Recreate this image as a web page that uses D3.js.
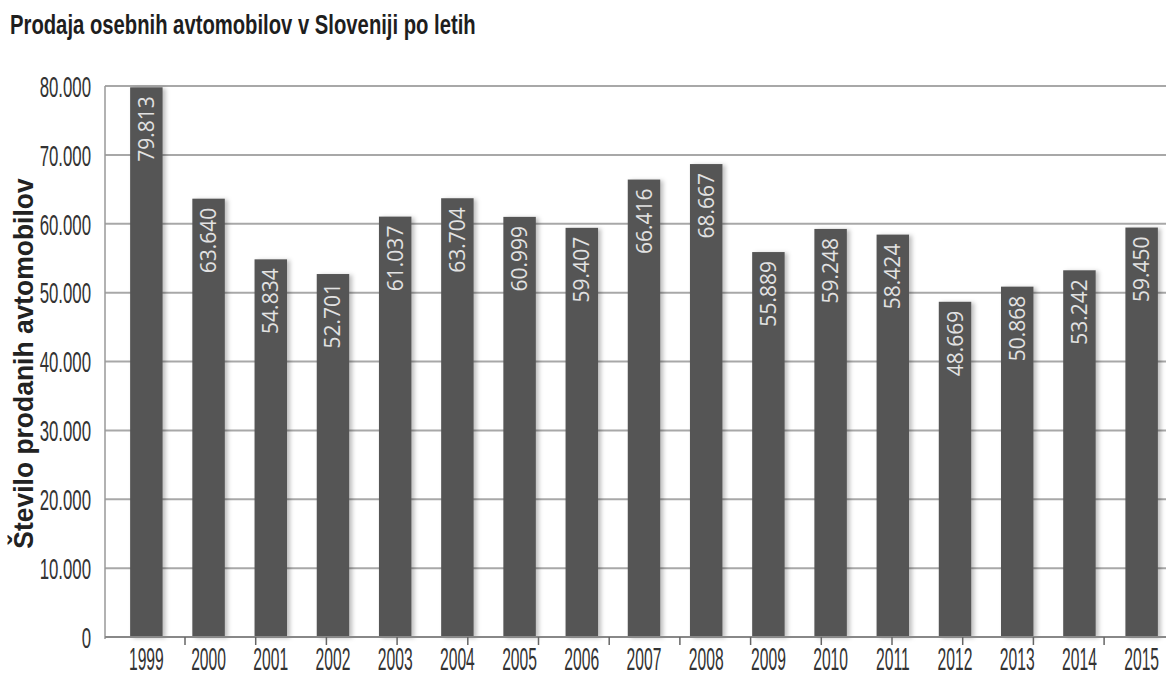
<!DOCTYPE html>
<html>
<head>
<meta charset="utf-8">
<script src="https://cdn.jsdelivr.net/npm/d3@7"></script>
<style>
  body { margin: 0; background: #fff; }
  svg { display: block; }
</style>
</head>
<body>
<div id="chart"></div>
<script>
// data
var years = ['1999', '2000', '2001', '2002', '2003', '2004', '2005', '2006', '2007',
  '2008', '2009', '2010', '2011', '2012', '2013', '2014', '2015'];
var sales = [79813, 63640, 54834, 52701, 61037, 63704, 60999, 59407, 66416,
  68667, 55889, 59248, 58424, 48669, 50868, 53242, 59450];
var yTicks = [0, 10000, 20000, 30000, 40000, 50000, 60000, 70000, 80000];

var W = 1166, H = 677;
var margin = { top: 86, right: 0, bottom: 40, left: 105 };
var plotBottom = H - margin.bottom;

// slovene number format: 79.813
var fmt = d3.formatLocale({ decimal: ',', thousands: '.', grouping: [3], currency: ['', ''] }).format(',d');

var svg = d3.select('#chart')
  .append('svg')
    .attr('width', W)
    .attr('height', H);

var defs = svg.append('defs');
var f = defs.append('filter').attr('id', 'shadow')
  .attr('x', '-30%').attr('y', '-5%').attr('width', '160%').attr('height', '110%');
f.append('feDropShadow')
  .attr('dx', 3).attr('dy', 1).attr('stdDeviation', 2)
  .attr('flood-color', '#000').attr('flood-opacity', 0.25);

var x = d3.scaleBand()
  .domain(years)
  .range([margin.left, 1183])
  .paddingInner(0.478)
  .paddingOuter(0.404);

var y = d3.scaleLinear()
  .domain([0, 80000])
  .range([plotBottom, margin.top]);

// gridlines
svg.append('g')
  .selectAll('line')
  .data(yTicks.filter(d => d > 0))
  .enter()
  .append('line')
    .attr('x1', margin.left)
    .attr('x2', W)
    .attr('y1', d => y(d))
    .attr('y2', d => y(d))
    .attr('stroke', '#a8a8a8')
    .attr('stroke-width', 2);

// left axis line
svg.append('line')
  .attr('x1', margin.left).attr('x2', margin.left)
  .attr('y1', y(80000)).attr('y2', plotBottom + 2)
  .attr('stroke', '#999')
  .attr('stroke-width', 1.5);

// y tick labels (squeezed to look like a condensed face)
svg.append('g')
  .selectAll('text')
  .data(yTicks)
  .enter()
  .append('text')
    .attr('transform', d => 'translate(91,' + y(d) + ') scale(0.56,1)')
    .attr('dy', '0.36em')
    .attr('text-anchor', 'end')
    .attr('font-family', 'Liberation Sans, sans-serif')
    .attr('font-size', '30px')
    .attr('fill', '#333')
    .text(d => fmt(d));

// bars
svg.append('g')
  .selectAll('rect')
  .data(sales)
  .enter()
  .append('rect')
    .attr('x', (d, i) => x(years[i]))
    .attr('y', d => y(d))
    .attr('width', x.bandwidth())
    .attr('height', d => plotBottom - y(d))
    .attr('fill', '#555')
    .attr('filter', 'url(#shadow)');

// bottom axis line
svg.append('line')
  .attr('x1', margin.left).attr('x2', W)
  .attr('y1', plotBottom).attr('y2', plotBottom)
  .attr('stroke', '#888')
  .attr('stroke-width', 2);

// x axis tick marks (they don't line up with the bars in the original)
var tickPos = d3.scalePoint()
  .domain(d3.range(14))
  .range([margin.left + 80, margin.left + 80 + 13 * 70.7]);
svg.append('g')
  .selectAll('line')
  .data(tickPos.domain())
  .enter()
  .append('line')
    .attr('x1', d => tickPos(d)).attr('x2', d => tickPos(d))
    .attr('y1', plotBottom).attr('y2', plotBottom + 8)
    .attr('stroke', '#666')
    .attr('stroke-width', 1.5);

// year labels
svg.append('g')
  .selectAll('text')
  .data(years)
  .enter()
  .append('text')
    .attr('transform', d => 'translate(' + (x(d) + x.bandwidth() / 2) + ',' + (plotBottom + 33) + ') scale(0.49,1)')
    .attr('text-anchor', 'middle')
    .attr('font-family', 'Liberation Sans, sans-serif')
    .attr('font-size', '32px')
    .attr('fill', '#333')
    .text(d => d);

// value labels inside bars
svg.append('g')
  .selectAll('text')
  .data(sales)
  .enter()
  .append('text')
    .attr('transform', (d, i) => 'translate(' + (x(years[i]) + x.bandwidth() / 2 + 7.5) + ',' + (y(d) + 9) + ') rotate(-90)')
    .attr('text-anchor', 'end')
    .attr('font-family', 'Open Sans, sans-serif')
    .attr('font-size', '21px')
    .attr('fill', '#e2e2e2')
    .text(d => fmt(d));

// title
svg.append('text')
  .attr('transform', 'translate(10,34) scale(0.75,1)')
  .attr('font-family', 'Liberation Sans, sans-serif')
  .attr('font-weight', 'bold')
  .attr('font-size', '27px')
  .attr('fill', '#1e1e1e')
  .text('Prodaja osebnih avtomobilov v Sloveniji po letih');

// y axis title
svg.append('text')
  .attr('transform', 'translate(33,' + ((margin.top + plotBottom) / 2 + 2) + ') rotate(-90) scale(0.98,1)')
  .attr('text-anchor', 'middle')
  .attr('font-family', 'Liberation Sans, sans-serif')
  .attr('font-weight', 'bold')
  .attr('font-size', '27px')
  .attr('fill', '#222')
  .text('Število prodanih avtomobilov');
</script>
</body>
</html>
